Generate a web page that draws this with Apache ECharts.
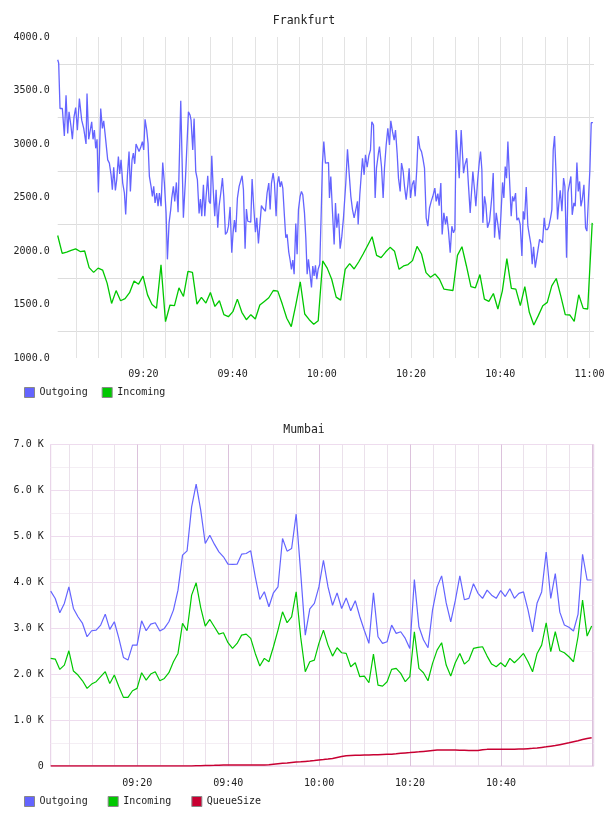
<!DOCTYPE html>
<html>
<head>
<meta charset="utf-8">
<script src="https://cdn.jsdelivr.net/npm/echarts@6/dist/echarts.min.js"></script>
<style>
html,body{margin:0;padding:0;background:#fff}
#main{width:608px;height:816px}
</style>
</head>
<body>
<div id="main"></div>
<script>
// x values are minutes after 09:00
var frankfurtTimeLabels = ['09:20', '09:40', '10:00', '10:20', '10:40', '11:00'];
var mumbaiTimeLabels = ['09:20', '09:40', '10:00', '10:20', '10:40'];

// Frankfurt outgoing: [minute, value]
var frankfurtOutgoing = [
  [0.80,3787],[1.02,3756],[1.32,3332],[1.84,3332],[2.29,3075],[2.67,3456],[3.04,3099],[3.34,3300],[3.79,3161],[4.09,3044],
  [4.46,3254],[4.83,3341],[5.21,3130],[5.66,3425],[6.18,3223],[6.63,3146],[6.93,3130],[7.15,3000],[7.37,3471],[7.75,3044],
  [8.12,3062],[8.42,3208],[8.72,3044],[9.02,3130],[9.32,2960],[9.62,3044],[9.92,2548],[10.44,3332],[10.81,3146],[11.11,3217],
  [11.41,3099],[11.71,3115],[12.01,2852],[12.38,2821],[12.76,2712],[13.05,2573],[13.35,2783],[13.73,2567],[14.03,2666],[14.40,2883],
  [14.70,2721],[15.00,2852],[15.37,2635],[15.75,2542],[16.04,2341],[16.42,2703],[16.79,2929],[17.09,2557],[17.46,2852],[17.76,2914],
  [18.06,2815],[18.36,3000],[18.73,2991],[19.03,2929],[19.41,2969],[19.78,3022],[20.08,2944],[20.38,3230],[20.75,3130],[21.05,3006],
  [21.35,2697],[21.72,2604],[22.02,2511],[22.32,2604],[22.62,2449],[22.99,2542],[23.29,2418],[23.59,2542],[23.97,2418],[24.34,2827],
  [24.71,2635],[25.09,2356],[25.39,1922],[25.76,2263],[26.13,2387],[26.36,2495],[26.73,2604],[27.03,2464],[27.40,2641],[27.78,2362],
  [28.38,3403],[28.97,2310],[29.42,2660],[29.80,2660],[30.10,3300],[30.47,3270],[30.69,3223],[31.07,2945],[31.37,3239],[31.74,2743],
  [32.11,2666],[32.49,2350],[32.79,2486],[33.09,2325],[33.46,2619],[33.76,2325],[34.06,2511],[34.43,2703],[34.73,2464],[35.03,2443],
  [35.33,2889],[35.70,2542],[36.00,2325],[36.30,2573],[36.67,2217],[36.97,2418],[37.35,2542],[37.72,2681],[38.02,2511],[38.39,2155],
  [38.77,2176],[39.07,2232],[39.44,2412],[39.81,1984],[40.11,2170],[40.41,2288],[40.71,2176],[41.08,2495],[41.46,2604],[41.76,2588],
  [42.13,2703],[42.43,2573],[42.80,2021],[43.10,2393],[43.40,2278],[43.77,2263],[44.07,2269],[44.37,2672],[44.75,2402],[45.12,2176],
  [45.42,2310],[45.79,2071],[46.09,2232],[46.46,2424],[46.76,2402],[47.06,2418],[47.36,2371],[47.73,2542],[48.11,2635],[48.41,2387],
  [48.71,2635],[49.08,2728],[49.38,2635],[49.75,2325],[50.05,2635],[50.35,2697],[50.65,2598],[50.95,2650],[51.25,2588],[51.62,2325],
  [51.92,2124],[52.22,2155],[52.59,1990],[52.89,1916],[53.19,1829],[53.49,1916],[53.79,1783],[54.16,2257],[54.46,1969],[54.76,2387],
  [55.13,2511],[55.43,2557],[55.73,2526],[56.11,2356],[56.41,2124],[56.71,1783],[57.00,1922],[57.30,1922],[57.68,1659],[57.97,1860],
  [58.27,1767],[58.57,1866],[58.87,1736],[59.17,1829],[59.54,1876],[59.84,2325],[60.14,2821],[60.44,3022],[60.81,2821],[61.49,2827],
  [61.71,2495],[62.01,2697],[62.38,2371],[62.76,2062],[63.06,2449],[63.36,2217],[63.73,2350],[64.10,2021],[64.48,2139],[64.85,2310],
  [65.37,2635],[65.75,2951],[66.12,2728],[66.50,2511],[66.87,2387],[67.24,2310],[67.62,2387],[67.99,2464],[68.14,2248],[68.51,2526],
  [68.81,2542],[69.11,2867],[69.48,2712],[69.78,2898],[70.16,2783],[70.53,2889],[70.90,2944],[71.20,3208],[71.58,3177],[71.95,2495],
  [72.25,2774],[72.70,2920],[72.92,2976],[73.37,2790],[73.74,2495],[74.04,2774],[74.42,2991],[74.79,3146],[75.16,2991],[75.46,3217],
  [75.84,3115],[76.21,3037],[76.51,3130],[76.88,2914],[77.18,2681],[77.56,2557],[77.86,2821],[78.23,2743],[78.53,2604],[78.90,2480],
  [79.28,2619],[79.57,2774],[79.87,2495],[80.25,2619],[80.62,2660],[80.92,2511],[81.29,2774],[81.59,3075],[81.97,2960],[82.34,2929],
  [82.64,2867],[83.01,2774],[83.39,2310],[83.76,2232],[84.13,2402],[84.51,2464],[84.88,2511],[85.33,2588],[85.63,2464],[86.00,2536],
  [86.30,2424],[86.67,2635],[86.97,2155],[87.35,2356],[87.72,2248],[88.02,2325],[88.39,2186],[88.77,1984],[89.14,2232],[89.51,2170],
  [89.81,2201],[90.11,3130],[90.49,2883],[90.79,2681],[91.23,3130],[91.76,2728],[92.06,2805],[92.50,2867],[92.88,2604],[93.25,2356],
  [93.55,2341],[93.85,2743],[94.22,2573],[94.52,2418],[94.90,2650],[95.27,2821],[95.57,2929],[95.87,2759],[96.09,2263],[96.47,2511],
  [96.77,2433],[97.14,2217],[97.59,2278],[98.11,2511],[98.41,2728],[98.71,2124],[99.08,2356],[99.46,2248],[99.83,2108],[100.13,2325],
  [100.50,2641],[100.80,2495],[101.10,2790],[101.40,2681],[101.70,3022],[102.07,2666],[102.44,2325],[102.74,2511],[103.04,2464],[103.42,2542],
  [103.72,2288],[104.09,2310],[104.46,2248],[104.84,1953],[105.14,2371],[105.43,2294],[105.81,2598],[106.18,2232],[106.48,2155],[106.85,2062],
  [107.15,1876],[107.45,2040],[107.83,1845],[108.12,1922],[108.50,1938],[108.80,2108],[109.17,2124],[109.47,2077],[109.84,2310],[110.14,2201],
  [110.59,2201],[110.89,2232],[111.26,2310],[111.56,2387],[111.86,2944],[112.16,3075],[112.46,2759],[112.83,2294],[113.13,2449],[113.43,2567],
  [113.81,2371],[114.18,2681],[114.48,2604],[114.85,1938],[115.15,2548],[115.45,2542],[115.82,2697],[116.12,2338],[116.50,2449],[116.79,2418],
  [117.17,2827],[117.47,2557],[117.77,2650],[118.07,2418],[118.37,2480],[118.74,2619],[119.11,2217],[119.41,2186],[119.71,2449],[120.08,2759],
  [120.38,3199],[120.76,3199]
];

// Frankfurt incoming: one sample per minute
var frankfurtInStart = 0.8, frankfurtInStep = 1.0067;
var frankfurtIncoming = [
  2145,1978,1990,2005,2020,1995,2000,1845,1800,1840,1822,1700,1510,1630,1535,1555,1610,1720,1690,1765,
  1590,1500,1465,1870,1340,1495,1490,1655,1575,1810,1800,1504,1566,1513,1612,1482,1535,1405,1386,1433,
  1550,1427,1358,1405,1365,1495,1529,1563,1631,1625,1504,1371,1293,1495,1712,1411,1358,1315,1349,1907,
  1840,1736,1569,1541,1829,1882,1832,1897,1972,2052,2133,1959,1938,1990,2034,1997,1829,1860,1873,1910,
  2043,1972,1798,1755,1786,1736,1643,1637,1631,1959,2040,1860,1668,1656,1780,1550,1529,1603,1458,1628,
  1928,1650,1643,1489,1668,1427,1309,1396,1489,1520,1674,1743,1581,1405,1402,1343,1591,1464,1458,2263
];

// Mumbai: one sample per minute, all three series
var mumbaiStart = 0.95, mumbaiStep = 1;
var mumbaiOutgoing = [
  3808,3648,3336,3540,3902,3430,3249,3104,2814,2945,2959,3068,3307,2974,3141,2778,2364,2306,2632,2632,
  3162,2945,3090,3119,2938,2996,3141,3394,3829,4590,4685,5642,6136,5570,4845,5026,4830,4663,4555,4395,
  4388,4395,4613,4627,4685,4120,3626,3793,3467,3771,3902,4954,4678,4736,5483,4200,2850,3420,3540,3900,
  4480,3900,3500,3770,3430,3660,3380,3600,3250,2950,2670,3770,2814,2669,2705,3068,2887,2923,2778,2560,
  4060,3031,2750,2575,3400,3900,4140,3550,3140,3600,4140,3620,3650,3970,3760,3650,3830,3720,3650,3820,
  3690,3860,3650,3760,3790,3400,2920,3550,3790,4660,3650,4190,3350,3070,3020,2940,3300,4610,4050,4050
];
var mumbaiIncoming = [
  2343,2328,2103,2197,2509,2067,1980,1856,1690,1784,1835,1944,2053,1798,1980,1726,1494,1494,1639,1690,
  2031,1871,2002,2053,1856,1907,2031,2270,2451,3104,2945,3720,3989,3450,3046,3191,3031,2872,2901,2684,
  2560,2669,2850,2872,2778,2451,2176,2343,2270,2596,2959,3358,3119,3249,3793,2800,2052,2270,2306,2669,
  2959,2632,2393,2575,2466,2451,2161,2248,1944,1958,1813,2437,1762,1740,1835,2103,2125,2016,1835,1944,
  2923,2125,2031,1856,2234,2524,2684,2197,1958,2248,2451,2219,2306,2560,2582,2596,2393,2219,2161,2248,
  2161,2343,2248,2343,2451,2270,2052,2451,2632,3119,2488,2923,2509,2466,2379,2270,2814,3612,2829,3046
];
var mumbaiQueue = [
  0,0,0,0,0,0,0,0,0,0,0,0,0,0,0,0,0,0,0,0,
  0,0,0,0,0,0,0,0,0,0,0,0,5,8,10,12,14,17,20,22,
  22,22,22,22,22,22,22,22,25,40,50,58,65,75,85,92,100,108,118,130,
  140,152,165,185,205,222,228,232,235,238,240,244,246,250,254,258,265,275,285,292,
  300,308,318,328,338,346,348,348,348,346,344,342,338,336,340,355,362,362,362,362,
  362,362,364,368,372,378,384,392,405,418,432,445,465,485,505,528,550,575,598,617
];

var FONT = 'DejaVu Sans Mono';
var BLUE = '#6464ff', GREEN = '#00c800', RED = '#c80032';

function withTimes(values, start, step) {
  return values.map(function (v, i) { return [start + i * step, v]; });
}
function clock(m) {
  var t = Math.round(m);
  var h = 9 + Math.floor(t / 60), mm = t % 60;
  return (h < 10 ? '0' : '') + h + ':' + (mm < 10 ? '0' : '') + mm;
}
function timeFormatter(list) {
  return function (v) {
    if (Math.abs(v - Math.round(v)) > 0.001) return '';
    var s = clock(v);
    return list.indexOf(s) >= 0 ? s : '';
  };
}

var labelStyle = { color: '#222', fontFamily: FONT, fontSize: 10 };

var chart = echarts.init(document.getElementById('main'));
var option = {
  animation: false,
  backgroundColor: '#fff',
  title: [
    { text: 'Frankfurt', left: 'center', top: 15, padding: 0,
      textStyle: { fontFamily: FONT, fontSize: 11.5, fontWeight: 'normal', color: '#222' } },
    { text: 'Mumbai', left: 'center', top: 424, padding: 0,
      textStyle: { fontFamily: FONT, fontSize: 11.5, fontWeight: 'normal', color: '#222' } }
  ],
  legend: [
    { data: ['Outgoing', 'Incoming'], left: 24, top: 387, padding: 0, icon: 'rect',
      itemWidth: 10, itemHeight: 10, itemGap: 14,
      itemStyle: { borderColor: '#888', borderWidth: 1 },
      textStyle: labelStyle },
    { data: ['Outgoing', 'Incoming', 'QueueSize'], left: 24, top: 796, padding: 0, icon: 'rect',
      itemWidth: 10, itemHeight: 10, itemGap: 20,
      itemStyle: { borderColor: '#888', borderWidth: 1 },
      textStyle: labelStyle }
  ],
  grid: [
    { left: 57.7, right: 14, top: 37, height: 321 },
    { left: 50.7, right: 14.3, top: 444.5, height: 321.5, show: true,
      borderColor: '#e4cce4', borderWidth: 1, backgroundColor: 'transparent' }
  ],
  xAxis: [
    { gridIndex: 0, type: 'value', min: 0.8, max: 121, splitNumber: 6,
      axisLine: { show: false }, axisTick: { show: false },
      axisLabel: Object.assign({ margin: 11, formatter: timeFormatter(frankfurtTimeLabels) }, labelStyle),
      splitLine: { show: true, showMinLine: false, showMaxLine: false, lineStyle: { color: '#e3e3e3', width: 1 } },
      minorTick: { show: false, splitNumber: 4 },
      minorSplitLine: { show: true, lineStyle: { color: '#e3e3e3', width: 1 } } },
    { gridIndex: 1, type: 'value', min: 0.95, max: 120.4, splitNumber: 6,
      axisLine: { show: false }, axisTick: { show: false },
      axisLabel: Object.assign({ margin: 12, formatter: timeFormatter(mumbaiTimeLabels) }, labelStyle),
      splitLine: { show: true, showMinLine: false, showMaxLine: false, lineStyle: { color: '#dcc2dc', width: 1 } },
      minorTick: { show: false, splitNumber: 4 },
      minorSplitLine: { show: true, lineStyle: { color: '#ebe1eb', width: 1 } } }
  ],
  yAxis: [
    { gridIndex: 0, type: 'value', min: 1000, max: 4000, interval: 500,
      axisLine: { show: false }, axisTick: { show: false },
      axisLabel: Object.assign({ margin: 8, formatter: function (v) { return v.toFixed(1); } }, labelStyle),
      splitLine: { show: false },
      minorTick: { show: false, splitNumber: 2 },
      minorSplitLine: { show: true, lineStyle: { color: '#dddddd', width: 1 } } },
    { gridIndex: 1, type: 'value', min: 0, max: 7000, interval: 1000,
      axisLine: { show: false }, axisTick: { show: false },
      axisLabel: Object.assign({ margin: 7, formatter: function (v) { return v === 0 ? '0' : (v / 1000).toFixed(1) + ' K'; } }, labelStyle),
      splitLine: { show: true, lineStyle: { color: '#eedcee', width: 1 } },
      minorTick: { show: false, splitNumber: 2 },
      minorSplitLine: { show: true, lineStyle: { color: '#f4eef4', width: 1 } } }
  ],
  series: [
    { name: 'Outgoing', type: 'line', xAxisIndex: 0, yAxisIndex: 0, data: frankfurtOutgoing,
      symbol: 'none', lineStyle: { color: BLUE, width: 1.3 }, itemStyle: { color: BLUE } },
    { name: 'Incoming', type: 'line', xAxisIndex: 0, yAxisIndex: 0,
      data: withTimes(frankfurtIncoming, frankfurtInStart, frankfurtInStep),
      symbol: 'none', lineStyle: { color: GREEN, width: 1.3 }, itemStyle: { color: GREEN } },
    { name: 'Outgoing', type: 'line', xAxisIndex: 1, yAxisIndex: 1,
      data: withTimes(mumbaiOutgoing, mumbaiStart, mumbaiStep),
      symbol: 'none', lineStyle: { color: BLUE, width: 1.2 }, itemStyle: { color: BLUE } },
    { name: 'Incoming', type: 'line', xAxisIndex: 1, yAxisIndex: 1,
      data: withTimes(mumbaiIncoming, mumbaiStart, mumbaiStep),
      symbol: 'none', lineStyle: { color: GREEN, width: 1.2 }, itemStyle: { color: GREEN } },
    { name: 'QueueSize', type: 'line', xAxisIndex: 1, yAxisIndex: 1,
      data: withTimes(mumbaiQueue, mumbaiStart, mumbaiStep),
      symbol: 'none', lineStyle: { color: RED, width: 1.5 }, itemStyle: { color: RED } }
  ]
};
chart.setOption(option);
</script>
</body>
</html>
